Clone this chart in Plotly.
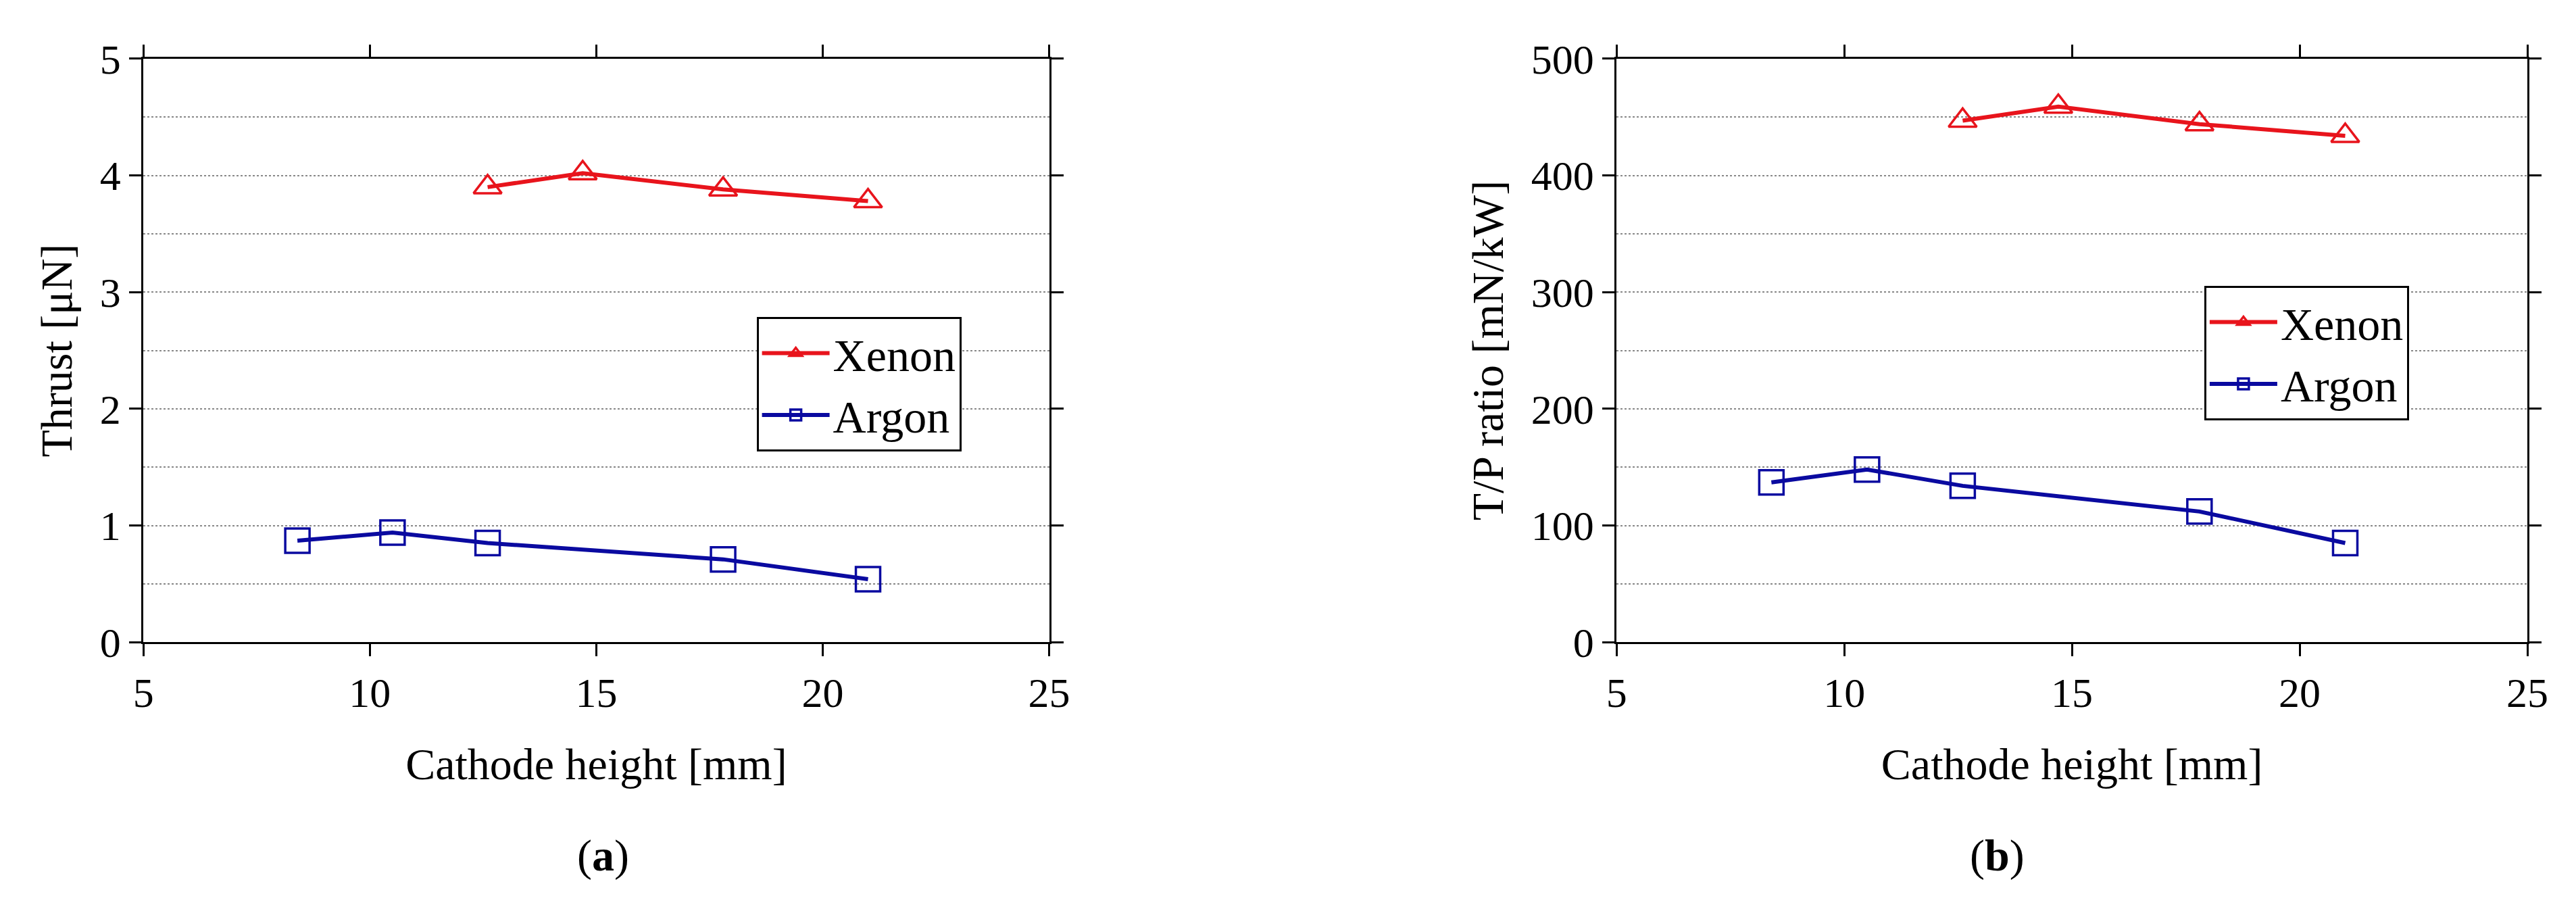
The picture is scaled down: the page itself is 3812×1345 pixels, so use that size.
import plotly.graph_objects as go
from plotly.subplots import make_subplots

xe_height = [12.6, 14.7, 17.8, 21.0]
xe_thrust = [3.9, 4.02, 3.88, 3.78]
xe_tp = [447, 459, 444, 434]
ar_height = [8.4, 10.5, 12.6, 17.8, 21.0]
ar_thrust = [0.87, 0.94, 0.85, 0.71, 0.54]
ar_tp = [137, 148, 134, 112, 85]

RED = "#e8141c"
BLUE = "#0a0aa0"
FONT = "Liberation Serif"

fig = make_subplots(rows=1, cols=2)

for col, (xe_y, ar_y) in enumerate([(xe_thrust, ar_thrust), (xe_tp, ar_tp)], start=1):
    fig.add_trace(go.Scatter(x=xe_height, y=xe_y, name="Xenon", mode="lines+markers",
                             line=dict(color=RED, width=6),
                             marker=dict(symbol="triangle-up-open", size=36, color=RED, line=dict(width=3.5)),
                             legend="legend" if col == 1 else "legend2"),
                  row=1, col=col)
    fig.add_trace(go.Scatter(x=ar_height, y=ar_y, name="Argon", mode="lines+markers",
                             line=dict(color=BLUE, width=6),
                             marker=dict(symbol="square-open", size=36, color=BLUE, line=dict(width=3.5)),
                             legend="legend" if col == 1 else "legend2"),
                  row=1, col=col)

axis_common = dict(showline=True, linecolor="black", linewidth=3, mirror="ticks",
                   ticks="outside", ticklen=18, tickwidth=3, tickcolor="black",
                   tickfont=dict(family=FONT, size=62, color="black"), zeroline=False)
title_font = dict(family=FONT, size=66, color="black")
minor_grid = dict(showgrid=True, gridcolor="#888888", griddash="dot", gridwidth=2, ticks="")

fig.update_xaxes(range=[5, 25], dtick=5, showgrid=False,
                 title=dict(text="Cathode height [mm]", font=title_font, standoff=50),
                 **axis_common)
fig.update_xaxes(domain=[0.050, 0.406], row=1, col=1)
fig.update_xaxes(domain=[0.629, 0.987], row=1, col=2)

fig.update_yaxes(range=[0, 5], tickvals=[0, 1, 2, 3, 4, 5], minor=dict(dtick=0.5, **minor_grid),
                 showgrid=True, gridcolor="#888888", griddash="dot", gridwidth=2,
                 title=dict(text="Thrust [μN]", font=title_font, standoff=20),
                 row=1, col=1, **axis_common)
fig.update_yaxes(range=[0, 500], tickvals=[0, 100, 200, 300, 400, 500], minor=dict(dtick=50, **minor_grid),
                 showgrid=True, gridcolor="#888888", griddash="dot", gridwidth=2,
                 title=dict(text="T/P ratio [mN/kW]", font=title_font, standoff=20),
                 row=1, col=2, **axis_common)
fig.update_yaxes(domain=[0.288, 0.964])

leg = dict(bgcolor="white", bordercolor="black", borderwidth=3,
           font=dict(family=FONT, size=68, color="black"), itemwidth=100,
           xanchor="left", yanchor="top", tracegroupgap=10)
fig.update_layout(
    width=3812, height=1345, plot_bgcolor="white", paper_bgcolor="white",
    margin=dict(l=0, r=0, t=0, b=0),
    legend=dict(x=0.291, y=0.665, **leg),
    legend2=dict(x=0.860, y=0.701, **leg),
    annotations=[
        dict(text="(<b>a</b>)", x=0.22, y=0.01, xref="paper", yref="paper", showarrow=False,
             yanchor="bottom", font=title_font),
        dict(text="(<b>b</b>)", x=0.79, y=0.01, xref="paper", yref="paper", showarrow=False,
             yanchor="bottom", font=title_font),
    ],
)

fig.write_html("out.html")
